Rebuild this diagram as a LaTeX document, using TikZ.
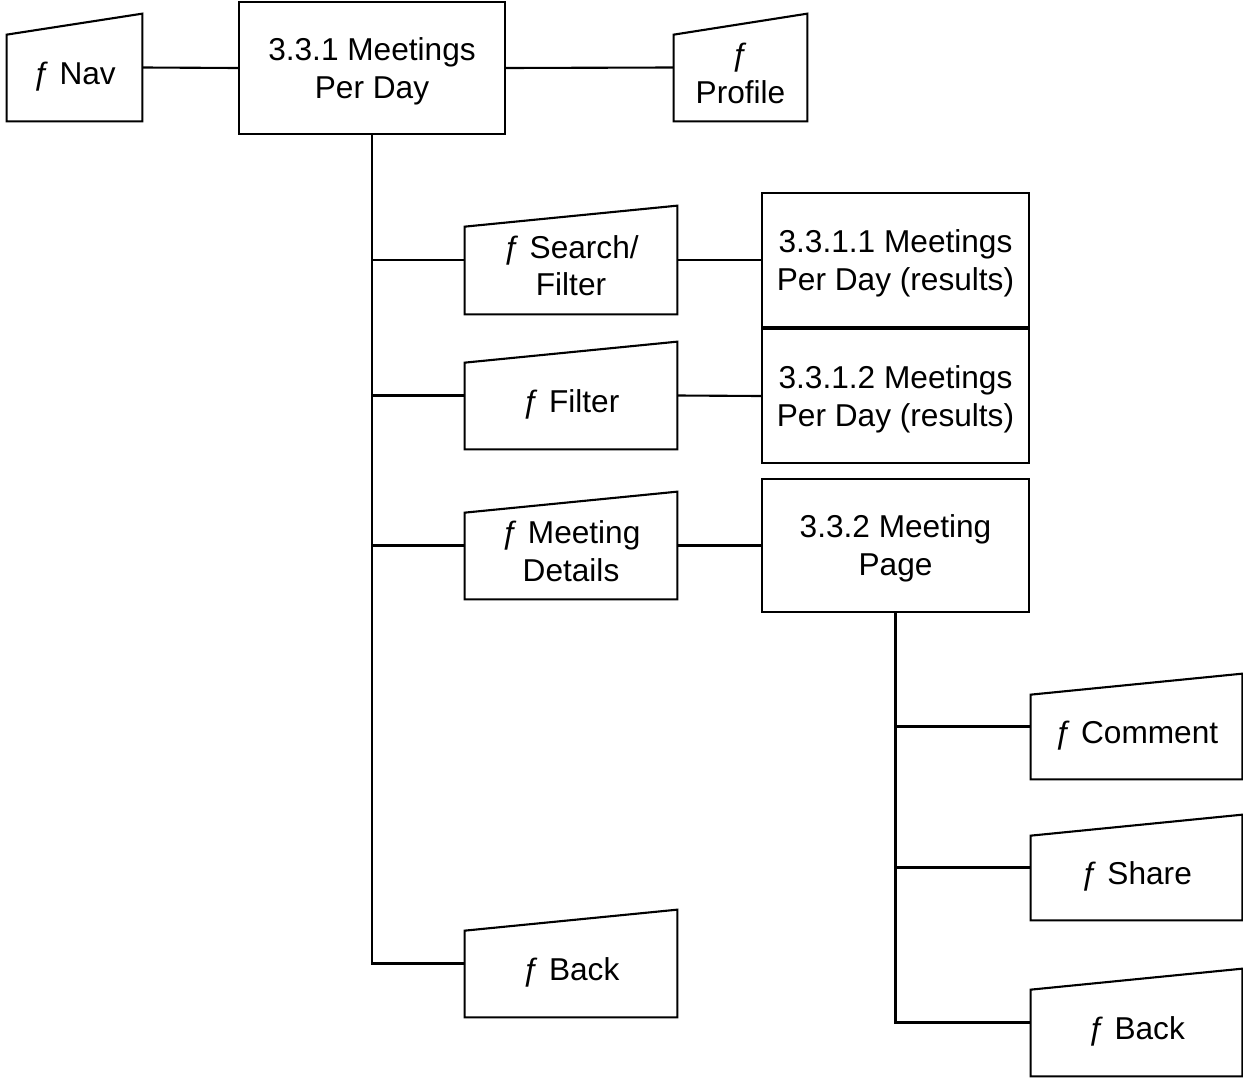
\documentclass[tikz,border=0pt]{standalone}
\usepackage{fontspec}
\setmainfont{Liberation Sans}
\newcommand\pxu{0.02cm}
\newcommand\hiS{\rule{0pt}{16.5pt}}
\newcommand\hiM{\rule{0pt}{23pt}}
\newcommand\hiT{\rule{0pt}{19.5pt}}
\tikzset{
  x=0.02cm, y=-0.02cm,
  every node/.style={font=\fontsize{18pt}{21.5pt}\selectfont, align=center, inner sep=0pt},
  conn/.style={line width=1.2pt},
  screen/.style={draw, line width=1.2pt, minimum width=267*\pxu, minimum height=134*\pxu},
  manual/.style={minimum width=212*\pxu, minimum height=107*\pxu},
}
\newcommand\manualshape[1]{%
  \draw[line width=1.2pt, line join=miter] (#1.south west) -- (#1.south east) -- (#1.north east)
    -- ([yshift=-21*\pxu]#1.north west) -- cycle;}
\begin{document}
\begin{tikzpicture}
\useasboundingbox (0,0) rectangle (1243,1078);
% screens
\node[screen, minimum width=266*\pxu, minimum height=132*\pxu] (main) at (372,68) {\hiS 3.3.1 Meetings\\Per Day};
\node[screen] (r1) at (895.5,260) {\hiS 3.3.1.1 Meetings\\Per Day (results)};
\node[screen] (r2) at (895.5,396) {\hiS 3.3.1.2 Meetings\\Per Day (results)};
\node[screen, minimum height=133*\pxu] (page) at (895.5,545.5) {\hiS 3.3.2 Meeting\\Page};
% functions
\node[manual, minimum width=135*\pxu] (nav) at (74.5,67.5) {\hiM ƒ Nav};
\node[manual, minimum width=133*\pxu] (profile) at (740.5,67.5) {\hiT ƒ\\Profile};
\node[manual, minimum height=108*\pxu] (search) at (571,260) {\hiT ƒ Search/\\Filter};
\node[manual] (filter) at (571,395.5) {\hiM ƒ Filter};
\node[manual] (details) at (571,545.5) {\hiT ƒ Meeting\\Details};
\node[manual] (back1) at (571,963.5) {\hiM ƒ Back};
\node[manual, minimum width=211*\pxu, minimum height=105*\pxu] (comment) at (1136.5,726.5) {\hiM ƒ Comment};
\node[manual, minimum width=211*\pxu, minimum height=105*\pxu] (share) at (1136.5,867.5) {\hiM ƒ Share};
\node[manual, minimum width=211*\pxu] (back2) at (1136.5,1022.5) {\hiM ƒ Back};
\foreach \n in {nav,profile,search,filter,details,back1,comment,share,back2}{\manualshape{\n}}
% connectors
\draw[conn] (nav.east) -- (main.west);
\draw[conn] (main.east) -- (profile.west);
\draw[conn] (main.south) |- (search.west);
\draw[conn] (main.south) |- (filter.west);
\draw[conn] (main.south) |- (details.west);
\draw[conn] (main.south) |- (back1.west);
\draw[conn] (search.east) -- (r1.west);
\draw[conn] (filter.east) -- (r2.west);
\draw[conn] (details.east) -- (page.west);
\draw[conn] (page.south) |- (comment.west);
\draw[conn] (page.south) |- (share.west);
\draw[conn] (page.south) |- (back2.west);
\end{tikzpicture}
\end{document}
